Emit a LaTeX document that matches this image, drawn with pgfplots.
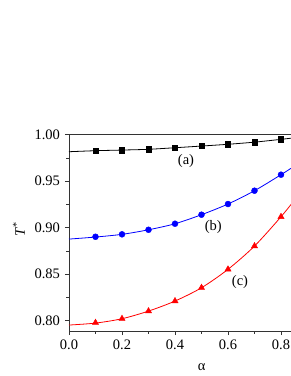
\documentclass[border=0pt]{standalone}
\usepackage{fontspec}
\setmainfont{Liberation Serif}
\usepackage{pgfplots}
\pgfplotsset{compat=1.18}
\begin{document}
\fontsize{14.5}{17}\selectfont
\begin{tikzpicture}[x=1pt,y=1pt]
\begin{axis}[
  at={(69pt,45pt)}, anchor=south west,
  scale only axis, width=227.9pt, height=196.3pt,
  xmin=0, xmax=0.86, ymin=0.789, ymax=1.00,
  xtick={0,0.2,0.4,0.6,0.8}, minor x tick num=1,
  ytick={0.80,0.85,0.90,0.95,1.00}, minor y tick num=1,
  xtick pos=left, ytick pos=left, tick align=outside,
  major tick length=4pt, minor tick length=2.5pt,
  /pgf/number format/assume math mode=true,
  xticklabel style={/pgf/number format/.cd, fixed, fixed zerofill, precision=1},
  yticklabel style={/pgf/number format/.cd, fixed, fixed zerofill, precision=2},
  axis line style={line width=0.8pt, black!80}, tick style={line width=0.8pt, black!80},
  xlabel={α},
  xlabel style={at={(axis description cs:0.582,-0.182)}, anchor=center},
  ylabel={\textit{T}\textsuperscript{*}},
  ylabel style={at={(axis description cs:-0.22,0.52)}, anchor=center, rotate=0},
  clip=true,
]
% curves
\addplot[black, line width=0.8pt, smooth] coordinates {
 (0,0.9817) (0.1,0.9828) (0.2,0.9835) (0.3,0.9843) (0.4,0.9860) (0.5,0.9878) (0.6,0.9897) (0.7,0.9920) (0.8,0.9950) (0.86,0.9970)};
\addplot[blue, line width=0.8pt, smooth] coordinates {
 (0,0.8878) (0.1,0.8900) (0.2,0.8929) (0.3,0.8978) (0.4,0.9043) (0.5,0.9140) (0.6,0.9255) (0.7,0.9398) (0.8,0.9570) (0.86,0.9680)};
\addplot[red, line width=0.8pt, smooth] coordinates {
 (0,0.7954) (0.1,0.7975) (0.2,0.8022) (0.3,0.8104) (0.4,0.8212) (0.5,0.8355) (0.6,0.8553) (0.7,0.8803) (0.8,0.9118) (0.86,0.9330)};
% markers
\addplot[only marks, mark=square*, mark size=2.7pt, black] coordinates {
 (0.1,0.9830) (0.2,0.9835) (0.3,0.9843) (0.4,0.9862) (0.5,0.9880) (0.6,0.9897) (0.7,0.9918) (0.8,0.9950)};
\addplot[only marks, mark=*, mark size=3pt, blue] coordinates {
 (0.1,0.8903) (0.2,0.8929) (0.3,0.8978) (0.4,0.9043) (0.5,0.9140) (0.6,0.9255) (0.7,0.9398) (0.8,0.9570)};
\addplot[only marks, mark=triangle*, mark size=3.6pt, red] coordinates {
 (0.1,0.7979) (0.2,0.8022) (0.3,0.8104) (0.4,0.8212) (0.5,0.8355) (0.6,0.8553) (0.7,0.8803) (0.8,0.9118)};
\node at (axis cs:0.4415,0.9717) {(a)};
\node at (axis cs:0.5446,0.9004) {(b)};
\node at (axis cs:0.6453,0.8420) {(c)};
\end{axis}
\pgfresetboundingbox
\useasboundingbox (0,0) rectangle (291pt,376pt);
\end{tikzpicture}
\end{document}
